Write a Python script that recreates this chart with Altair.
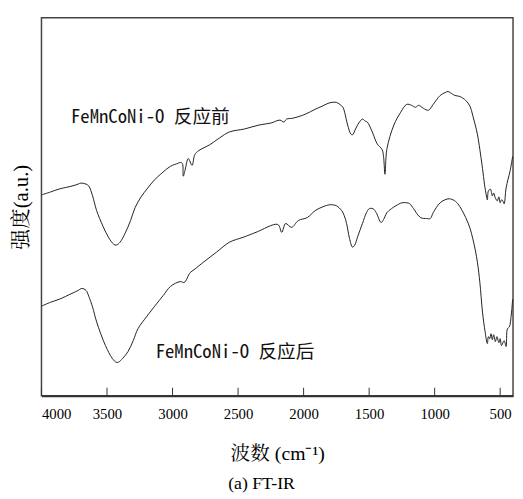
import altair as alt
import pandas as pd

# FT-IR spectra (wavenumber in cm^-1, intensity in arbitrary units)
wn_before = [4000, 3930, 3865, 3767, 3720, 3700, 3660, 3639, 3610, 3579, 3530, 3489, 3450, 3429,
             3400, 3362, 3320, 3286, 3240, 3189, 3140, 3091, 3016,
             2960, 2941, 2925, 2918, 2903, 2880, 2851, 2830, 2800, 2716, 2640, 2565, 2450, 2340,
             2250, 2180, 2150, 2130, 2080, 1987, 1912, 1860, 1814, 1784, 1750, 1724, 1700, 1687,
             1664, 1640, 1627, 1600, 1574, 1551, 1530, 1514, 1476, 1439, 1401, 1390, 1379, 1364,
             1311, 1259, 1213, 1176, 1146, 1123, 1086, 1048, 1011, 958, 920, 898, 870, 845, 808,
             763, 730, 710, 690, 673, 655, 635, 620, 605, 598, 590, 575, 560, 550,
             537, 522, 510, 500, 490, 480, 470, 455, 440, 425, 405]
int_before = [204, 207, 210, 213, 215, 216, 215, 213, 203, 188, 172, 161, 154, 153,
              156, 165, 178, 191, 202, 211, 219, 225, 233,
              236, 237, 236, 223, 230, 241, 234, 245, 249, 255, 262, 268, 271, 275,
              277, 280, 278, 281, 282, 286, 291, 294, 297, 298, 298, 296, 293, 288,
              275, 266, 265, 272, 278, 281, 279, 278, 268, 256, 250, 243, 225, 251,
              275, 288, 296, 295, 293, 295, 292, 290, 296, 305, 308, 309, 307, 305, 304,
              300, 294, 285, 275, 265, 250, 231, 215, 203, 199, 208, 210, 203, 206,
              201, 198, 202, 196, 199, 198, 195, 211, 220, 228, 243]

wn_after = [4000, 3930, 3865, 3767, 3720, 3692, 3660, 3639, 3610, 3579, 3512, 3460, 3430, 3414,
            3380, 3339, 3300, 3264, 3200, 3136, 3070, 3016, 2941,
            2911, 2866, 2836, 2761, 2663, 2565, 2460, 2363, 2197, 2167, 2137, 2092, 2040, 1972,
            1912, 1852, 1799, 1750, 1709, 1690, 1672, 1650, 1627, 1610, 1589, 1551, 1520, 1499,
            1470, 1446, 1409, 1390, 1364, 1330, 1296,
            1250, 1213, 1190, 1161, 1108, 1060, 1033, 1011, 958, 898, 860, 823, 763, 730, 710,
            690, 673, 655, 635, 615, 598, 590, 580,
            570, 560, 550, 537, 525, 510, 500, 490, 470, 455, 445, 430, 415, 405]
int_after = [91, 95, 98, 104, 107, 109, 107, 101, 90, 75, 51, 38, 34, 34,
             38, 45, 56, 68, 80, 91, 102, 111, 116,
             115, 125, 128, 136, 146, 156, 161, 166, 174, 166, 175, 171, 178, 181,
             188, 192, 194, 193, 188, 183, 175, 160, 151, 153, 161, 175, 186, 190,
             190, 186, 176, 179, 186, 190, 193,
             196, 196, 195, 190, 181, 180, 180, 186, 196, 200, 199, 195, 181, 170, 160,
             148, 135, 115, 85, 65, 53, 60, 58,
             63, 57, 62, 55, 60, 54, 58, 51, 56, 50, 68, 70, 83, 98]

x_ticks = [4000, 3500, 3000, 2500, 2000, 1500, 1000, 500]

label_text = ["FeMnCoNi-O 反应前", "FeMnCoNi-O 反应后"]
label_wn = [3775, 3129]
label_int = [283, 44]

df = pd.concat([
    pd.DataFrame({"wn": wn_before, "I": int_before, "s": "before"}),
    pd.DataFrame({"wn": wn_after, "I": int_after, "s": "after"}),
])
ticks_df = pd.DataFrame({"tw": x_ticks})
labels_df = pd.DataFrame({"wn": label_wn, "I": label_int, "t": label_text})

serif = "Liberation Serif"
serif_cjk = "Liberation Serif, Noto Serif CJK SC, Noto Sans CJK SC"

xscale = alt.Scale(domain=[4000, 402], nice=False, zero=False)
yscale = alt.Scale(domain=[0, 384], nice=False, zero=False)

x_axis = alt.Axis(values=x_ticks, format="d", tickSize=0, labelFont=serif, labelFontSize=15,
                  labelColor="#000", labelPadding=11, domain=True, domainColor="#333",
                  domainWidth=2, grid=False, title="波数 (cm⁻¹)", titleFont=serif_cjk,
                  titleFontSize=20, titleFontWeight="normal", titleColor="#000",
                  titlePadding=23, zindex=0)
y_axis = alt.Axis(labels=False, ticks=False, domain=False, grid=False, title="强度(a.u.)",
                  titleFont=serif_cjk, titleFontSize=21, titleFontWeight="normal",
                  titleColor="#000", titlePadding=10)

lines = alt.Chart(df).mark_line(color="#222", strokeWidth=1, interpolate="catmull-rom").encode(
    x=alt.X("wn:Q", scale=xscale, axis=x_axis),
    y=alt.Y("I:Q", scale=yscale, axis=y_axis),
    detail="s:N",
    order=alt.Order("idx:Q"),
).transform_window(idx="row_number()", groupby=["s"])

tick_marks = alt.Chart(ticks_df).mark_tick(
    color="#333", thickness=1, size=8, orient="vertical", opacity=1
).encode(
    x=alt.X("tw:Q", scale=xscale, axis=None),
    y=alt.value(380),
)

texts = alt.Chart(labels_df).mark_text(
    align="left", baseline="middle", fontSize=19, color="#111",
    font="Noto Sans Mono CJK SC, Liberation Mono, monospace",
).encode(
    x=alt.X("wn:Q", scale=xscale, axis=None),
    y=alt.Y("I:Q", scale=yscale, axis=None),
    text="t:N",
)

chart = alt.layer(lines, texts, tick_marks).resolve_axis(
    x="independent", y="independent"
).properties(
    width=479, height=384,
    title=alt.TitleParams("(a) FT-IR", orient="bottom", font=serif, fontSize=18,
                          fontWeight="normal", color="#000", offset=12, dx=-16),
    autosize=alt.AutoSizeParams(type="none"),
    padding={"left": 34, "top": 6, "right": 2, "bottom": 100},
).configure_view(stroke="#444", strokeWidth=1.5)

chart.save("out.html", embed_options={"renderer": "svg", "actions": False})
